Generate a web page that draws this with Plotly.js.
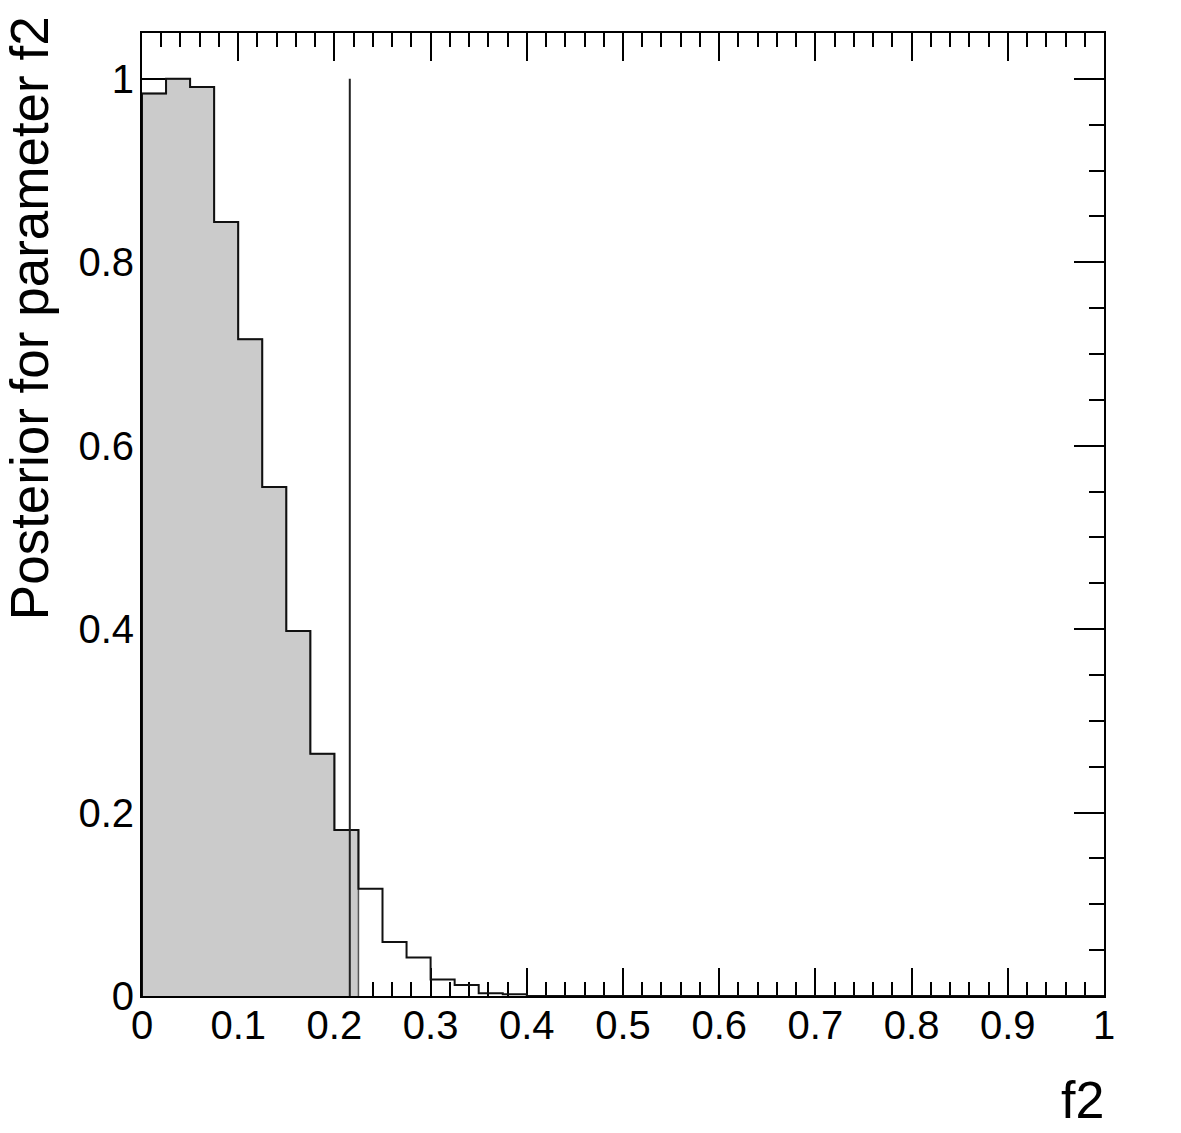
<!DOCTYPE html>
<html>
<head>
<meta charset="utf-8">
<script src="https://cdn.plot.ly/plotly-3.0.1.min.js"></script>
<style>html,body{margin:0;padding:0;background:#fff;}#chart{width:1181px;height:1133px;}</style>
</head>
<body>
<div id="chart"></div>
<script>
// Histogram: 40 bins of width 0.025 from 0 to 1
const binStart = 0;
const binWidth = 0.025;
const posterior = [0.984, 1.000, 0.991, 0.844, 0.716, 0.555, 0.398, 0.264, 0.181, 0.117,
                   0.059, 0.042, 0.018, 0.012, 0.003, 0.002, 0, 0, 0, 0,
                   0, 0, 0, 0, 0, 0, 0, 0, 0, 0,
                   0, 0, 0, 0, 0, 0, 0, 0, 0, 0];
const shadedBins = 9;          // bins included in the shaded credible region
const limitValue = 0.216;      // upper limit marker
const limitHeight = 1.0;
const xTickVals = [0, 0.1, 0.2, 0.3, 0.4, 0.5, 0.6, 0.7, 0.8, 0.9, 1];
const xTickText = ["0", "0.1", "0.2", "0.3", "0.4", "0.5", "0.6", "0.7", "0.8", "0.9", "1"];
const yTickVals = [0, 0.2, 0.4, 0.6, 0.8, 1];
const yTickText = ["0", "0.2", "0.4", "0.6", "0.8", "1"];
const xTitle = "f2";
const yTitle = "Posterior for parameter f2";

// build step outlines from bins
const edges = posterior.map((_, i) => binStart + i * binWidth);
const lastEdge = binStart + posterior.length * binWidth;

const outlineX = [binStart].concat(edges, [lastEdge]);
const outlineY = [0].concat(posterior, [posterior[posterior.length - 1]]);

const shadeEdges = edges.slice(0, shadedBins);
const shadeEnd = binStart + shadedBins * binWidth;
const shadeX = [binStart].concat(shadeEdges, [shadeEnd, shadeEnd]);
const shadeY = [0].concat(posterior.slice(0, shadedBins), [posterior[shadedBins - 1], 0]);

const font = "Liberation Sans, Arial, Helvetica, sans-serif";

const traces = [
  {
    x: shadeX, y: shadeY, type: "scatter", mode: "lines",
    line: {shape: "hv", color: "#555555", width: 1.5},
    fill: "tozeroy", fillcolor: "#cbcbcb",
    hoverinfo: "skip", showlegend: false
  },
  {
    x: outlineX, y: outlineY, type: "scatter", mode: "lines",
    line: {shape: "hv", color: "#111111", width: 2},
    hoverinfo: "skip", showlegend: false
  },
  {
    x: [limitValue, limitValue], y: [0, limitHeight], type: "scatter", mode: "lines",
    line: {color: "#222222", width: 2},
    hoverinfo: "skip", showlegend: false
  }
];

const layout = {
  width: 1181, height: 1133,
  margin: {l: 142, r: 77, t: 33, b: 137, pad: 0},
  paper_bgcolor: "#ffffff", plot_bgcolor: "#ffffff",
  font: {family: font, color: "#000000", size: 40},
  showlegend: false,
  xaxis: {
    range: [0, 1], autorange: false,
    tickmode: "array", tickvals: xTickVals, ticktext: xTickText,
    ticks: "inside", ticklen: 28, tickwidth: 2, tickcolor: "#000",
    minor: {dtick: 0.02, tick0: 0, ticks: "inside", ticklen: 14, tickwidth: 2, tickcolor: "#000", showgrid: false},
    showline: true, linecolor: "#000", linewidth: 2, mirror: "allticks",
    showgrid: false, zeroline: false,
    tickfont: {family: font, size: 40, color: "#000"},
    ticklabelstandoff: -7,
    layer: "below traces"
  },
  yaxis: {
    range: [0, 1.05], autorange: false,
    tickmode: "array", tickvals: yTickVals, ticktext: yTickText,
    ticks: "inside", ticklen: 30, tickwidth: 2, tickcolor: "#000",
    minor: {dtick: 0.05, tick0: 0, ticks: "inside", ticklen: 15, tickwidth: 2, tickcolor: "#000", showgrid: false},
    showline: true, linecolor: "#000", linewidth: 2, mirror: "allticks",
    showgrid: false, zeroline: false,
    tickfont: {family: font, size: 40, color: "#000"},
    ticklabelstandoff: -2,
    layer: "below traces"
  },
  annotations: [
    {
      text: xTitle, xref: "paper", yref: "paper", x: 1.002, y: -0.108,
      xanchor: "right", yanchor: "middle", showarrow: false,
      font: {family: font, size: 52, color: "#000"}
    },
    {
      text: yTitle, xref: "paper", yref: "paper", x: -0.117, y: 1.02,
      xanchor: "center", yanchor: "top", textangle: -90, showarrow: false,
      font: {family: font, size: 53, color: "#000"}
    }
  ]
};

Plotly.newPlot("chart", traces, layout, {staticPlot: true, displayModeBar: false});
</script>
</body>
</html>
